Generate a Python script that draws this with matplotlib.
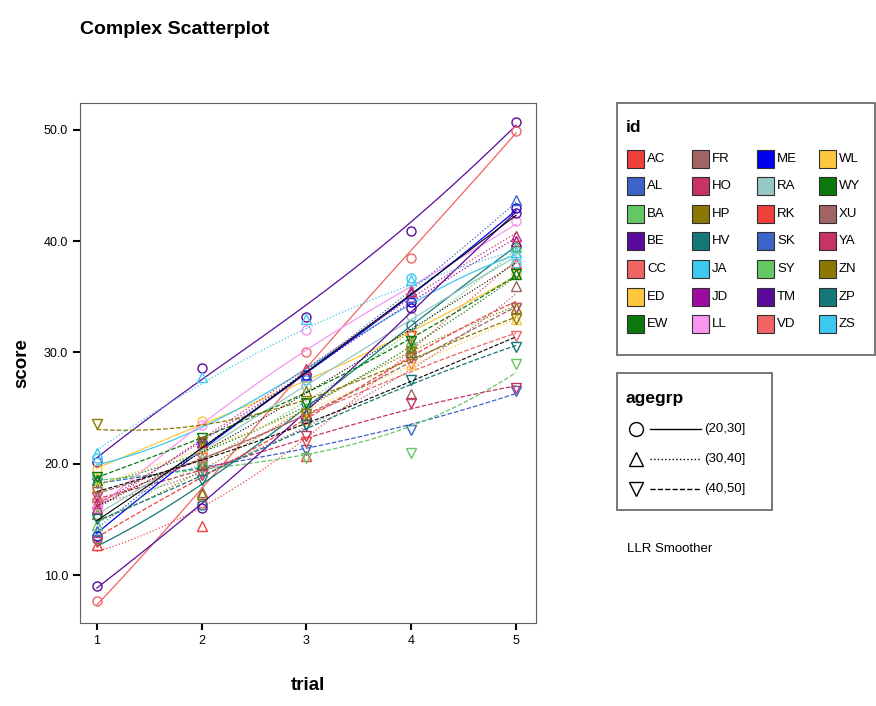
import numpy as np
import matplotlib
matplotlib.use("Agg")
import matplotlib.pyplot as plt
from matplotlib.patches import Rectangle

plt.rcParams['font.family'] = ['Liberation Sans', 'DejaVu Sans']

trials = [1, 2, 3, 4, 5]

# id -> (agegrp index, scores for trial 1..5)
ids = ['AC', 'AL', 'BA', 'BE', 'CC', 'ED', 'EW',
       'FR', 'HO', 'HP', 'HV', 'JA', 'JD', 'LL',
       'ME', 'RA', 'RK', 'SK', 'SY', 'TM', 'VD',
       'WL', 'WY', 'XU', 'YA', 'ZN', 'ZP', 'ZS']
id_colors = ['#f0403c', '#3c64c8', '#64c864', '#5a0a9a', '#f06464', '#ffc83c', '#0a780a',
             '#a06464', '#c83264', '#8c7800', '#147878', '#3cc8f0', '#a00aa0', '#f896f0',
             '#0000f0', '#96c8c8', '#f0403c', '#3c64c8', '#64c864', '#5a0a9a', '#f06464',
             '#ffc83c', '#0a780a', '#a06464', '#c83264', '#8c7800', '#147878', '#3cc8f0']
agegrp_of = [1, 2, 2, 0, 0, 0, 1,
             1, 2, 1, 0, 0, 1, 0,
             0, 0, 2, 1, 1, 0, 2,
             1, 2, 2, 1, 2, 2, 1]
scores = [
    [12.7, 14.4, 20.7, 31.0, 38.0],  # AC
    [18.3, 19.5, 21.2, 23.0, 26.5],  # AL
    [18.5, 19.5, 20.5, 21.0, 29.0],  # BA
    [20.2, 28.6, 33.2, 40.9, 50.7],  # BE
    [7.7, 16.5, 30.0, 38.5, 49.9],   # CC
    [19.5, 23.8, 27.0, 31.5, 37.0],  # ED
    [18.5, 20.0, 24.5, 30.0, 37.0],  # EW
    [17.0, 17.5, 24.0, 26.3, 36.0],  # FR
    [17.0, 19.0, 22.5, 25.5, 26.8],  # HO
    [15.5, 17.3, 26.5, 30.5, 34.0],  # HP
    [13.2, 16.3, 25.5, 32.5, 39.5],  # HV
    [20.5, 21.5, 27.5, 36.7, 38.0],  # JA
    [16.5, 21.5, 28.0, 35.3, 40.0],  # JD
    [16.0, 23.5, 32.0, 35.0, 41.8],  # LL
    [13.5, 22.0, 28.0, 34.5, 43.0],  # ME
    [15.5, 21.0, 27.0, 33.3, 38.5],  # RA
    [13.0, 20.0, 22.0, 31.5, 34.0],  # RK
    [14.0, 22.0, 28.0, 35.0, 43.7],  # SK
    [14.5, 20.5, 25.0, 31.0, 39.5],  # SY
    [9.0, 16.0, 24.0, 34.0, 42.5],   # TM
    [16.5, 20.5, 24.0, 29.0, 31.5],  # VD
    [18.0, 21.5, 24.0, 29.0, 33.0],  # WL
    [18.8, 22.3, 25.5, 31.0, 37.0],  # WY
    [17.5, 20.0, 23.5, 29.5, 34.0],  # XU
    [16.0, 22.0, 28.5, 35.5, 40.5],  # YA
    [23.6, 22.0, 24.5, 30.0, 33.0],  # ZN
    [15.0, 18.5, 23.5, 27.5, 30.5],  # ZP
    [21.0, 27.8, 33.0, 36.5, 39.0],  # ZS
]

agegrp_labels = ['(20,30]', '(30,40]', '(40,50]']
agegrp_markers = ['o', '^', 'v']
agegrp_styles = ['-', ':', '--']


def llr(x, y, grid, h=1.1):
    # local linear regression, gaussian kernel
    x = np.asarray(x, float)
    y = np.asarray(y, float)
    out = []
    for g in grid:
        w = np.exp(-0.5 * ((x - g) / h) ** 2)
        X = np.column_stack([np.ones_like(x), x - g])
        W = np.diag(w)
        beta = np.linalg.solve(X.T @ W @ X, X.T @ W @ y)
        out.append(beta[0])
    return np.array(out)


W_PX, H_PX = 876, 706
fig = plt.figure(figsize=(W_PX / 100, H_PX / 100), dpi=100)
ax = fig.add_axes([80 / W_PX, 1 - 623 / H_PX, 456 / W_PX, 520 / H_PX])

grid = np.linspace(1, 5, 80)
for name, col, g, sc in zip(ids, id_colors, agegrp_of, scores):
    ax.plot(grid, llr(trials, sc, grid), color=col, lw=0.9, ls=agegrp_styles[g])
    ax.plot(trials, sc, ls='none', marker=agegrp_markers[g], ms=6.5,
            mfc='none', mec=col, mew=1.0)

# overall agegrp smoothers in black
for g in range(3):
    grp = np.array([sc for sc, a in zip(scores, agegrp_of) if a == g])
    ax.plot(grid, llr(trials, grp.mean(axis=0), grid), color='black', lw=0.8,
            ls=agegrp_styles[g])

ax.set_xlim(0.84, 5.19)
ax.set_ylim(5.7, 52.4)
ax.set_xticks(trials)
ax.set_yticks([10, 20, 30, 40, 50])
ax.set_yticklabels(['10.0', '20.0', '30.0', '40.0', '50.0'])
ax.tick_params(axis='both', labelsize=9, width=1.5, length=5, color='black')
for s in ax.spines.values():
    s.set_color('#606060')
ax.set_xlabel('trial', fontsize=13.5, fontweight='bold', labelpad=22)
ax.set_ylabel('score', fontsize=13.5, fontweight='bold', labelpad=10)

fig.text(80 / W_PX, 1 - 30 / H_PX, 'Complex Scatterplot', fontsize=14,
         fontweight='bold', va='center', ha='left')

# legends drawn on a pixel overlay
ov = fig.add_axes([0, 0, 1, 1])
ov.set_xlim(0, W_PX)
ov.set_ylim(H_PX, 0)
ov.axis('off')

ov.add_patch(Rectangle((617, 103), 258, 252, fill=False, ec='#606060', lw=1.2))
ov.text(626, 128, 'id', fontsize=12.5, fontweight='bold', va='center')
col_x = [628, 693, 758, 820]
row_y = [159, 186, 214, 241, 269, 297, 324]
for i, (name, col) in enumerate(zip(ids, id_colors)):
    cx = col_x[i // 7]
    cy = row_y[i % 7]
    ov.add_patch(Rectangle((cx - 1, cy - 9), 17, 18, fc=col, ec='#303030', lw=0.8))
    ov.text(cx + 19, cy, name, fontsize=9.5, va='center', ha='left')

ov.add_patch(Rectangle((617, 373), 155, 137, fill=False, ec='#606060', lw=1.2))
ov.text(626, 398, 'agegrp', fontsize=12.5, fontweight='bold', va='center')
for k, lab in enumerate(agegrp_labels):
    y = 429 + k * 30
    ov.plot([636], [y], marker=agegrp_markers[k], ms=10, mfc='none', mec='black', mew=1.0)
    ov.plot([650, 701], [y, y], color='black', lw=1.0, ls=agegrp_styles[k])
    ov.text(704, y, lab, fontsize=9.5, va='center', ha='left')

ov.text(627, 549, 'LLR Smoother', fontsize=9.5, va='center', ha='left')

fig.savefig('out.png', dpi=100)
